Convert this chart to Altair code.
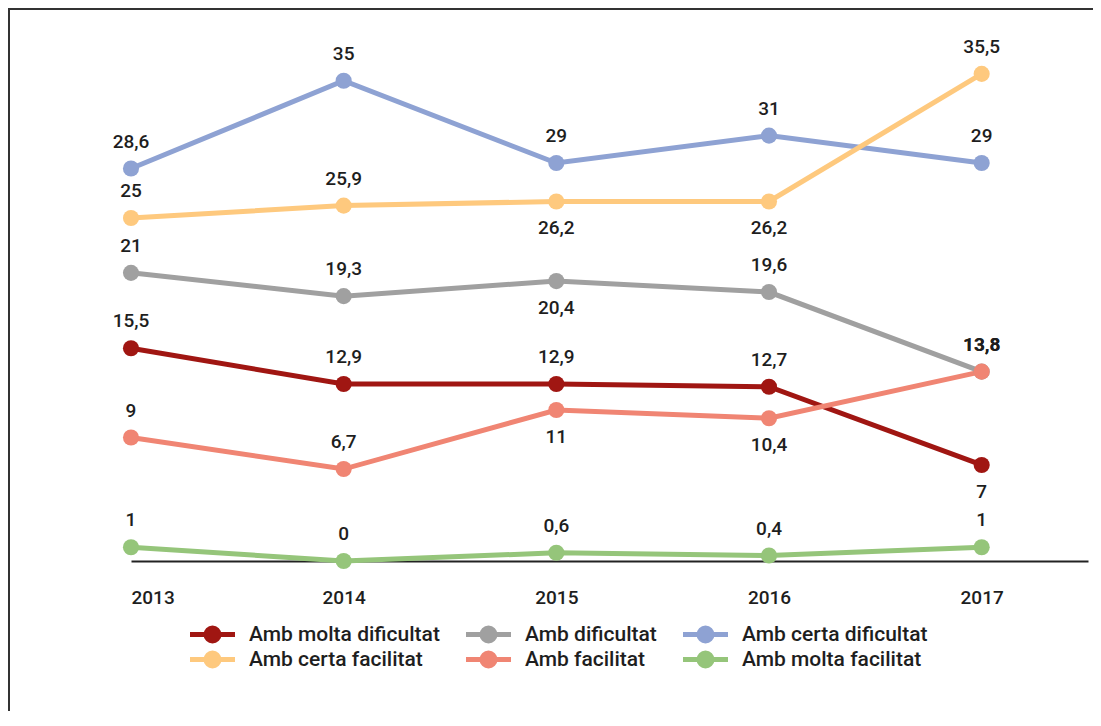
import altair as alt
import pandas as pd

years = [2013, 2014, 2015, 2016, 2017]
series = ["Amb molta dificultat", "Amb dificultat", "Amb certa dificultat",
          "Amb certa facilitat", "Amb facilitat", "Amb molta facilitat"]
molta_dificultat = [15.5, 12.9, 12.9, 12.7, 7]
dificultat = [21, 19.3, 20.4, 19.6, 13.8]
certa_dificultat = [28.6, 35, 29, 31, 29]
certa_facilitat = [25, 25.9, 26.2, 26.2, 35.5]
facilitat = [9, 6.7, 11, 10.4, 13.8]
molta_facilitat = [1, 0, 0.6, 0.4, 1]
colors = ["#a01612", "#a0a0a0", "#8ea2d3", "#fec97e", "#f08573", "#95c57a"]

# labels shown under their point instead of above
labels_below = [("Amb certa facilitat", 2015), ("Amb certa facilitat", 2016),
                ("Amb dificultat", 2015), ("Amb facilitat", 2015),
                ("Amb facilitat", 2016), ("Amb molta dificultat", 2017)]
# labels in bold
labels_bold = [("Amb dificultat", 2017), ("Amb facilitat", 2017)]

values = [molta_dificultat, dificultat, certa_dificultat,
          certa_facilitat, facilitat, molta_facilitat]
rows = []
for s, vals in zip(series, values):
    for y, v in zip(years, vals):
        rows.append({"serie": s, "year": y, "value": v,
                     "below": (s, y) in labels_below,
                     "bold": (s, y) in labels_bold})
df = pd.DataFrame(rows)

W, H = 957, 494
FONT = "Roboto"
TXT = "#1e1e1e"

xscale = alt.Scale(domain=[2013, 2017.5], nice=False, zero=False)
yscale = alt.Scale(domain=[0, 36], nice=False)
color_scale = alt.Scale(domain=series, range=colors)

base = alt.Chart(df)

legend_path = ("M-2.5,0L2.5,0"
               "M-0.278,0a0.278,0.278 0 1,0 0.556,0a0.278,0.278 0 1,0 -0.556,0"
               "M-0.722,0a0.722,0.722 0 1,0 1.444,0a0.722,0.722 0 1,0 -1.444,0")

lines = base.mark_line(strokeWidth=5).encode(
    x=alt.X("year:Q", scale=xscale,
            axis=alt.Axis(values=years, format="d", title=None, ticks=False, grid=False,
                          domainColor="#222222", domainWidth=2, labelFontSize=19,
                          labelFont=FONT, labelFontWeight=500, labelColor=TXT,
                          labelPadding=27)),
    y=alt.Y("value:Q", scale=yscale, axis=None),
    color=alt.Color("serie:N", scale=color_scale, sort=series,
                    legend=alt.Legend(title=None, orient="none", legendX=70, legendY=556,
                                      direction="horizontal", columns=3, gridAlign="none",
                                      symbolType=legend_path, symbolSize=324,
                                      symbolStrokeWidth=5, labelFontSize=21, labelFont=FONT,
                                      labelFontWeight=500, labelLimit=400,
                                      labelColor=TXT, labelOffset=25,
                                      columnPadding=16, rowPadding=-8)),
    detail="serie:N",
)

points = base.mark_circle(size=260, opacity=1).encode(
    x=alt.X("year:Q", scale=xscale),
    y=alt.Y("value:Q", scale=yscale),
    color=alt.Color("serie:N", scale=color_scale, legend=None),
)

text_common = dict(fontSize=19, font=FONT, color=TXT, baseline="middle", align="center")
lab_expr = "replace(toString(datum.value), '.', ',')"
enc = dict(x=alt.X("year:Q", scale=xscale), y=alt.Y("value:Q", scale=yscale), text="lab:N")

labels_above = base.transform_filter("!datum.below && !datum.bold").transform_calculate(
    lab=lab_expr).mark_text(dy=-27, fontWeight=500, **text_common).encode(**enc)

labels_above_bold = base.transform_filter("datum.bold").transform_calculate(
    lab=lab_expr).mark_text(dy=-27, fontWeight="bold", **text_common).encode(**enc)

labels_under = base.transform_filter("datum.below").transform_calculate(
    lab=lab_expr).mark_text(dy=27, fontWeight=500, **text_common).encode(**enc)

one = alt.Chart(pd.DataFrame({"a": [0]}))
frame_left = one.mark_rule(color="#333333", strokeWidth=2).encode(
    x=alt.value(-122), y=alt.value(-58), y2=alt.value(H + 160))
frame_top = one.mark_rule(color="#333333", strokeWidth=2).encode(
    x=alt.value(-123), x2=alt.value(W + 10), y=alt.value(-58))

chart = alt.layer(lines, points, labels_above, labels_above_bold, labels_under,
                  frame_left, frame_top).properties(
    width=W, height=H,
    autosize=alt.AutoSizeParams(type="none"),
    padding={"left": 123, "top": 59, "right": 5, "bottom": 150},
).configure(background="white").configure_view(stroke=None)

chart.save("out.html", embed_options={"renderer": "svg", "actions": False})
